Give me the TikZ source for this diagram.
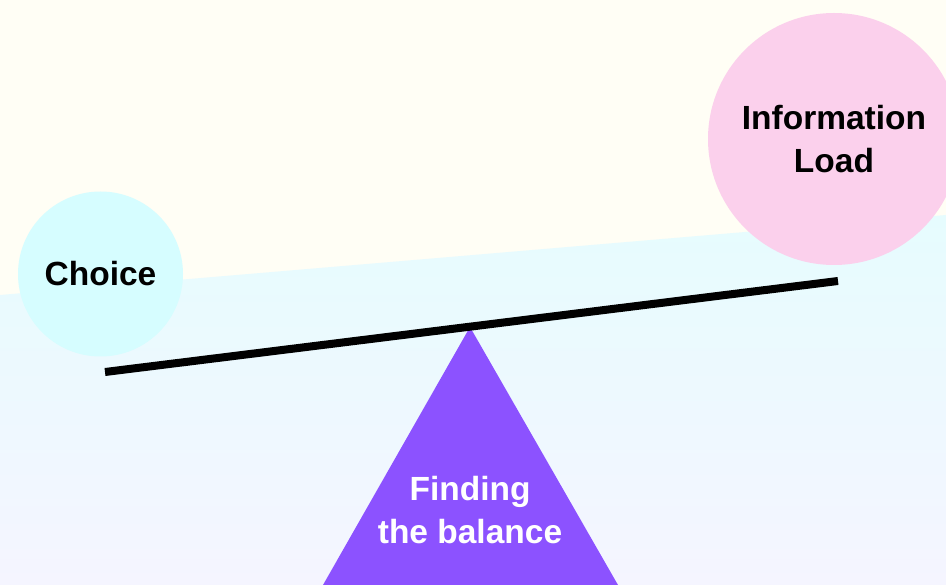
\documentclass[tikz,border=0pt]{standalone}
\usepackage{fontspec}
\setmainfont{Liberation Sans}
\definecolor{cream}{HTML}{FFFEF5}
\definecolor{lowtop}{HTML}{E6FCFE}
\definecolor{lowbot}{HTML}{F5F5FF}
\definecolor{choicefill}{HTML}{D6FDFF}
\definecolor{infofill}{HTML}{FBD0EC}
\definecolor{pivot}{HTML}{8C52FF}
\tikzset{
  bubble/.style={circle, inner sep=0pt, align=center, font=\fontsize{33.5}{43}\selectfont\bfseries, text=black},
  lbl/.style={align=center, font=\fontsize{33.5}{43}\selectfont\bfseries, inner sep=0pt},
  beam/.style={line width=8pt, draw=black}
}
\begin{document}
\begin{tikzpicture}[x=1pt,y=-1pt]
\useasboundingbox (0,0) rectangle (946,585);
\fill[cream] (0,0) rectangle (946,585);
\shade[top color=lowtop, bottom color=lowbot] (0,295) -- (946,215) -- (946,585) -- (0,585) -- cycle;
\node[bubble, fill=choicefill, minimum size=165pt] (choice) at (100.5,274) {Choice};
\begin{scope}
\clip (0,0) rectangle (946,585);
\node[bubble, fill=infofill, minimum size=252pt] (info) at (834,139) {Information\\Load};
\end{scope}
\coordinate (apex) at (470,327);
\coordinate (bl) at (323,585);
\coordinate (br) at (618,585);
\fill[pivot] (apex) -- (bl) -- (br) -- cycle;
\node[lbl, text=white] (balance) at (470,510) {Finding\\the balance};
\coordinate (bleft) at (105,372);
\coordinate (bright) at (838,281);
\draw[beam] (bleft) -- (bright);
\end{tikzpicture}
\end{document}
